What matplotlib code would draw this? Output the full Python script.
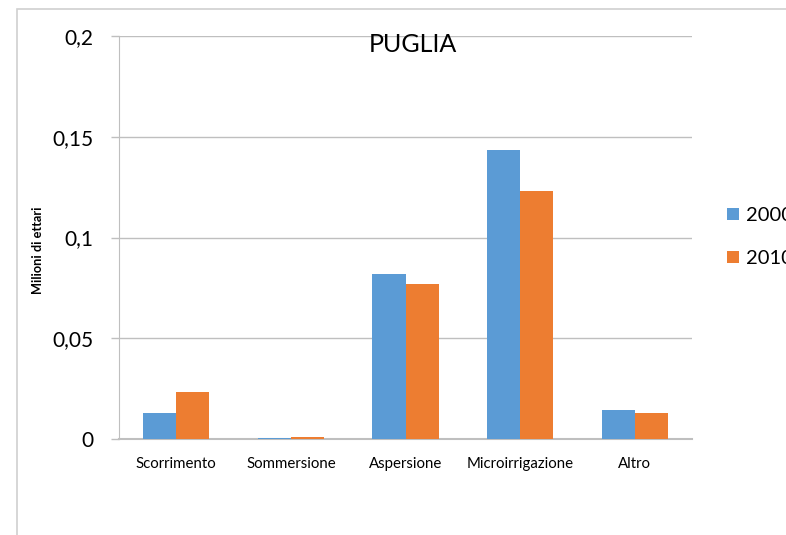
import numpy as np
import matplotlib.pyplot as plt
from matplotlib.patches import Rectangle

categorie = ["Scorrimento", "Sommersione", "Aspersione", "Microirrigazione", "Altro"]
anni = ["2000", "2010"]
v2000 = [0.0129, 0.0005, 0.0819, 0.1434, 0.0144]
v2010 = [0.0233, 0.0010, 0.0769, 0.1231, 0.0129]
yticks = [0, 0.05, 0.1, 0.15, 0.2]
ytick_labels = ["0", "0,05", "0,1", "0,15", "0,2"]

blu = "#5B9BD5"
arancio = "#ED7D31"
grigio = "#BFBFBF"

plt.rcParams['font.family'] = ['Lato', 'DejaVu Sans']

W, H = 786, 535
fig = plt.figure(figsize=(W / 100, H / 100), dpi=100)
ax = fig.add_axes([119 / W, 1 - 439 / H, (692 - 119) / W, (439 - 36) / H])

# bordo esterno del grafico (tagliato a destra e in basso)
fig.patches.append(Rectangle((17 / W, -0.1), 1.2, 1 - 9 / H + 0.1, transform=fig.transFigure,
                             fill=False, edgecolor="#D0D0D0", linewidth=1.2))

x = np.arange(len(categorie))
w = 0.288
ax.bar(x - w / 2, v2000, w, color=blu, label=anni[0], zorder=3)
ax.bar(x + w / 2, v2010, w, color=arancio, label=anni[1], zorder=3)

ax.set_xlim(-0.5, len(categorie) - 0.5)
ax.set_ylim(0, 0.2)
ax.set_yticks(yticks)
ax.set_yticklabels(ytick_labels, fontsize=15)
ax.set_xticks(x)
ax.set_xticklabels(categorie, fontsize=10.8)
ax.tick_params(axis='x', length=0, pad=13)
ax.tick_params(axis='y', length=5.5, color=grigio, width=1, pad=13)
ax.yaxis.grid(True, color=grigio, linewidth=1, zorder=0)

for s in ["top", "right"]:
    ax.spines[s].set_visible(False)
ax.spines["left"].set_color(grigio)
ax.spines["bottom"].set_color(grigio)
ax.spines["bottom"].set_linewidth(1.5)

fig.text(38 / W, 1 - 250 / H, "Milioni di ettari", rotation=90, ha="center", va="center",
         fontsize=9.2, fontweight="bold")
fig.text(413 / W, 1 - 44 / H, "PUGLIA", ha="center", va="center", fontsize=18)

fig.legend(loc="center left", bbox_to_anchor=(709 / W, 1 - 237 / H), frameon=False,
           fontsize=14.5, handlelength=0.57, handleheight=0.57, handletextpad=0.35,
           labelspacing=1.3)

fig.savefig("out.png", dpi=100)
